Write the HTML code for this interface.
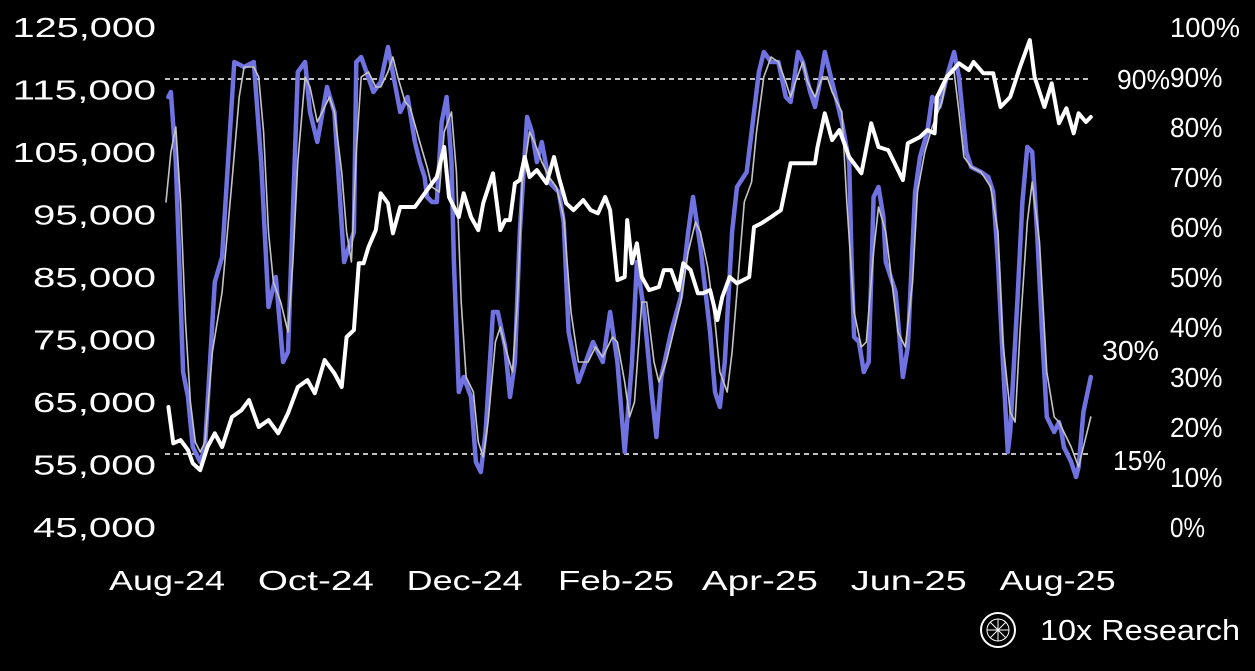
<!DOCTYPE html>
<html><head><meta charset="utf-8">
<style>
html,body{margin:0;padding:0;background:#000;}
body{width:1255px;height:666px;overflow:hidden;font-family:"Liberation Sans",sans-serif;}
svg text{font-family:"Liberation Sans",sans-serif;fill:#fff;}
</style></head>
<body>
<svg id="chart" width="1255" height="666" viewBox="0 0 1255 666" xmlns="http://www.w3.org/2000/svg">
<rect width="1255" height="666" fill="#000"/>
<g id="axes"></g>
<g id="marks"></g>
<g id="logo">
  <circle cx="998" cy="630" r="17" fill="none" stroke="#fff" stroke-width="2"/>
  <circle cx="998" cy="630" r="11" fill="none" stroke="#fff" stroke-width="1"/>
  <path d="M987 630 L1009 630 M998 619 L998 641 M990 622 L1006 638 M1006 622 L990 638" stroke="#fff" stroke-width="1"/>
  <text x="1040" y="640" font-size="29" textLength="200" lengthAdjust="spacingAndGlyphs">10x Research</text>
</g>
</svg>
<script>
// Price (left axis)
const priceDays=[1,3,6,9,11,14,17,20,23,27,31,34,38,42,46,50,54,58,61,65,69,72,74,77,79,81,83,86,88,91,93,96,102,107,111,114,116,120,122,125,128,130,134,137,139,141,143,145,147,149,152,156,159,161,164,167,171,174,177,180,182,185,188,189,191,193,195,198,202,204,207,210,212,215,218,220,223,226,228,231,234,239,241,244,248,252,256,260,266,267,270,273,276,280,285,289,292,296,300,302,304,309,312,315,316,320,325,329,331,335,339,342,346,350,354,356,360,363,366,369,372,374,377,379];
const priceValues=[64200,58400,58900,57300,55200,54100,57800,60000,57800,62600,63700,65300,61000,62100,60000,63200,67400,68500,66400,71700,69600,67400,75400,76500,87200,87200,89800,92500,98400,96800,92000,96200,96200,98900,101000,105800,97800,94600,98400,94600,92500,96800,101600,92500,94100,94100,100000,100500,104200,101000,102100,100000,104200,101000,96800,95700,97300,95700,95200,97800,95700,84500,85000,94100,87200,90400,85000,82900,83400,86100,86100,82900,87200,86100,82400,82400,82900,78100,81800,85000,84000,85000,93000,93600,94600,95700,103200,103200,103200,105800,111200,106900,108500,104200,101600,109600,105800,105300,102100,100500,106400,107400,108500,108000,113800,117000,119200,118100,119400,117600,117600,112200,113800,118600,122900,117000,112200,116000,109600,112000,108000,111200,109800,110600];
// Indicator (right axis, %)
const indDays=[1,2,4,7,9,11,14,16,20,23,28,32,36,39,42,45,48,50,54,57,59,62,66,69,73,77,78,80,85,88,91,96,99,102,104,106,107,109,111,113,115,117,118,120,122,125,127,129,131,134,136,139,141,143,145,148,150,152,154,157,161,163,165,169,172,175,179,182,185,188,191,193,196,199,201,203,207,211,214,216,219,223,225,227,229,232,234,238,240,243,245,248,251,254,256,257,259,261,264,266,268,270,273,277,280,281,282,284,286,288,290,292,294,295,299,302,304,307,309,312,314,317,320,323,325,328,330,334,337,339,341,343,345,346,349,351,353,355,357,359,361,364,366,367,368,371,373,374,376,379];
const indValues=[86,87,73,31,26,16,13,16,49,54,93,92,93,73,44,50,33,35,91,93,83,77,88,83,53,59,93,94,87,89,96,83,86,77,73,70,66,65,65,81,86,73,53,27,30,26,13,11,19,43,43,36,26,33,59,82,79,73,77,69,67,61,39,29,33,37,33,43,33,15,33,53,43,27,18,30,39,46,59,66,56,39,27,24,33,59,68,71,79,91,95,93,93,86,85,88,95,93,87,84,89,95,89,81,73,53,38,37,31,33,66,68,62,53,47,30,36,67,74,79,86,84,90,95,90,75,72,71,70,67,53,33,15,19,46,65,76,75,59,39,22,19,21,19,16,13,10,12,23,30];
// Smoothed indicator (right axis, %)
const smoothDays=[0,2,4,6,8,10,12,14,16,19,23,27,30,32,36,38,40,42,44,47,50,52,54,57,59,62,64,67,69,72,74,76,78,80,83,86,88,91,93,95,98,100,104,107,109,112,114,117,119,121,123,126,128,130,132,135,137,139,142,144,146,149,151,154,157,160,163,166,169,173,176,179,183,185,188,190,192,195,197,200,202,205,208,211,214,217,219,222,225,227,230,232,235,237,240,242,245,248,251,254,256,258,261,263,266,269,271,273,277,279,282,285,287,290,292,295,297,300,303,306,308,311,314,318,320,323,325,327,330,334,338,341,343,346,348,350,353,355,358,361,364,366,368,371,374,376,379];
const smoothValues=[65,75,80,65,41,25,17,15,17,35,47,69,86,92,92,90,79,59,49,45,39,53,73,90,88,81,83,86,83,71,59,53,75,90,91,88,88,91,94,90,85,84,77,72,68,67,79,83,71,45,30,27,17,14,21,37,40,36,31,45,69,79,77,73,70,68,62,43,33,33,36,34,38,37,29,22,25,45,45,33,29,33,39,45,55,61,59,52,41,31,27,35,53,65,69,79,90,94,93,89,86,89,93,89,86,90,90,87,83,65,43,36,37,55,64,59,51,39,36,49,67,75,80,85,90,91,83,74,72,71,68,59,37,23,21,39,61,69,57,31,22,21,19,16,12,16,22];
const leftTicks=[125000,115000,105000,95000,85000,75000,65000,55000,45000];
const rightTicks=[100,90,80,70,60,50,40,30,20,10,0];
const xTickLabels=["Aug-24","Oct-24","Dec-24","Feb-25","Apr-25","Jun-25","Aug-25"];
const xTickDays=[0,61,122,184,243,304,365];
const refLevels=[90,15];
const refLabels=["90%","15%"];

const NS="http://www.w3.org/2000/svg";
function xS(d){return 166+d*2.44;}
function yL(v){return 27+(125000-v)/160;}
function yR(p){return 527-p*5;}
const axes=document.getElementById('axes'), marks=document.getElementById('marks');
function mk(tag,parent){const e=document.createElementNS(NS,tag);parent.appendChild(e);return e;}

leftTicks.forEach(v=>{
  const t=mk('text',axes);
  
  
  const s=v.toLocaleString('en-US');
  t.setAttribute('x',156);t.setAttribute('y',yL(v)+10);t.setAttribute('text-anchor','end');t.setAttribute('font-size','28');
  t.setAttribute('textLength',s.length*20.5);t.setAttribute('lengthAdjust','spacingAndGlyphs');
  t.textContent=s;
});
rightTicks.forEach(p=>{
  const t=mk('text',axes);
  
  
  const s=p+'%';
  t.setAttribute('x',1170);t.setAttribute('y',yR(p)+10);t.setAttribute('font-size','28');
  t.setAttribute('textLength',s.length*17.5);t.setAttribute('lengthAdjust','spacingAndGlyphs');
  t.textContent=s;
});
xTickLabels.forEach((s,i)=>{
  const t=mk('text',axes);
  
  
  t.setAttribute('x',xS(xTickDays[i])+1);t.setAttribute('y',590);t.setAttribute('text-anchor','middle');t.setAttribute('font-size','28');
  t.setAttribute('textLength',116);t.setAttribute('lengthAdjust','spacingAndGlyphs');
  t.textContent=s;
});
refLevels.forEach((p,i)=>{
  const l=mk('line',axes);
  
  
  l.setAttribute('x1',165);l.setAttribute('x2',1090);l.setAttribute('y1',yR(p)+2);l.setAttribute('y2',yR(p)+2);
  l.setAttribute('stroke','#fff');l.setAttribute('stroke-width','1.5');l.setAttribute('stroke-dasharray','5 4');
  const t=mk('text',axes);
  
  
  t.setAttribute('x',p>50?1117:1113);t.setAttribute('y',yR(p)+(p>50?12:18));t.setAttribute('font-size','28');
  t.setAttribute('textLength',53);t.setAttribute('lengthAdjust','spacingAndGlyphs');
  t.textContent=refLabels[i];
});
function line(days,vals,yf,color,w,name){
  const p=mk('path',marks);
  
  
  p.setAttribute('d',days.map((d,i)=>(i?'L':'M')+xS(d).toFixed(1)+' '+yf(vals[i]).toFixed(1)).join(' '));
  p.setAttribute('fill','none');p.setAttribute('stroke',color);p.setAttribute('stroke-width',w);
  p.setAttribute('stroke-linejoin','round');p.setAttribute('stroke-linecap','round');
}
line(indDays,indValues,yR,'#6f72e0',4.5,'indicator-line');
line(smoothDays,smoothValues,yR,'#c4c4c4',1.6,'smoothed-indicator-line');
line(priceDays,priceValues,yL,'#ffffff',4,'price-line');
// last value label
const lv=mk('text',marks);


lv.setAttribute('x',1102);lv.setAttribute('y',yR(indValues[indValues.length-1])-17);lv.setAttribute('font-size','28');
lv.setAttribute('textLength',57);lv.setAttribute('lengthAdjust','spacingAndGlyphs');
lv.textContent=Math.round(indValues[indValues.length-1])+'%';
</script>
</body></html>
